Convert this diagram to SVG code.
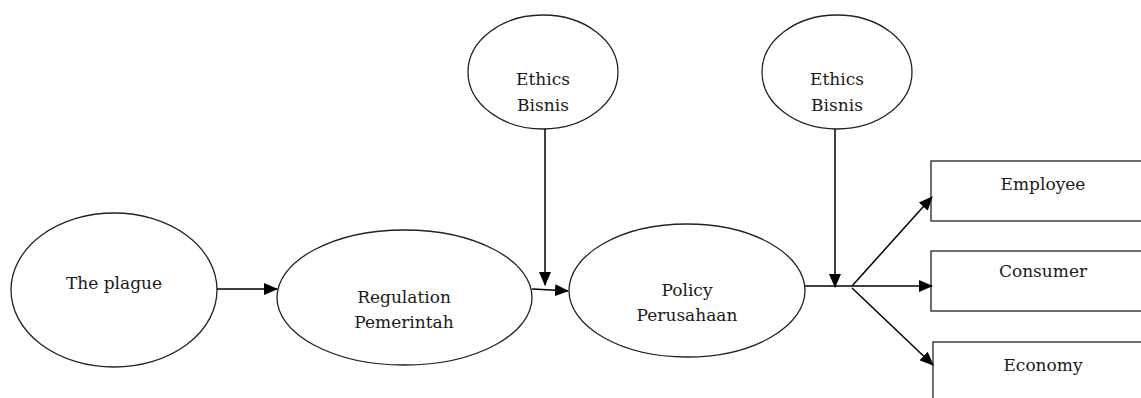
<svg xmlns="http://www.w3.org/2000/svg" width="1141" height="398" viewBox="0 0 1141 398">
<defs>
<marker id="ahb" markerWidth="14" markerHeight="12" refX="13" refY="6" orient="auto" markerUnits="userSpaceOnUse" viewBox="0 0 14 12">
<path d="M0,0 L14,6 L0,12 z" fill="#000"/>
</marker>
</defs>
<style>
.n{fill:#fff;stroke:#222;stroke-width:1.3}
.t{font-family:"DejaVu Serif","Liberation Serif",serif;font-size:17px;fill:#1a1a1a;text-anchor:middle}
.c{fill:none;stroke:#000;stroke-width:1.5}
</style>
<rect width="1141" height="398" fill="#fff"/>
<g id="plague"><ellipse class="n" cx="114" cy="290" rx="103" ry="77"/><text class="t" x="114" y="289">The plague</text></g>
<g id="regulation"><ellipse class="n" cx="404.5" cy="297.5" rx="127.5" ry="67.5"/><text class="t" x="404" y="303">Regulation</text><text class="t" x="404" y="328">Pemerintah</text></g>
<g id="policy"><ellipse class="n" cx="687" cy="290.5" rx="118" ry="66.5"/><text class="t" x="687" y="296">Policy</text><text class="t" x="687" y="321">Perusahaan</text></g>
<g id="ethics1"><ellipse class="n" cx="543" cy="72" rx="75" ry="57"/><text class="t" x="543" y="85">Ethics</text><text class="t" x="543" y="111">Bisnis</text></g>
<g id="ethics2"><ellipse class="n" cx="837" cy="72" rx="75" ry="57"/><text class="t" x="837" y="85">Ethics</text><text class="t" x="837" y="111">Bisnis</text></g>
<g id="employee"><rect class="n" x="931" y="161" width="215" height="60"/><text class="t" x="1043" y="190">Employee</text></g>
<g id="consumer"><rect class="n" x="931" y="251" width="215" height="60"/><text class="t" x="1043" y="277">Consumer</text></g>
<g id="economy"><rect class="n" x="933" y="342" width="215" height="70"/><text class="t" x="1043" y="371">Economy</text></g>
<g id="connectors">
<line class="c" x1="217" y1="289" x2="277" y2="289" marker-end="url(#ahb)"/>
<polyline class="c" points="532,289 552,290 568,291" marker-end="url(#ahb)"/>
<line class="c" x1="545" y1="129" x2="545" y2="285" marker-end="url(#ahb)"/>
<line class="c" x1="835" y1="129" x2="835" y2="287" marker-end="url(#ahb)"/>
<line class="c" x1="805" y1="286" x2="852" y2="286"/>
<line class="c" x1="852" y1="286" x2="932" y2="286" marker-end="url(#ahb)"/>
<line class="c" x1="852" y1="286" x2="932" y2="197" marker-end="url(#ahb)"/>
<line class="c" x1="852" y1="288" x2="933" y2="365" marker-end="url(#ahb)"/>
</g>
</svg>
